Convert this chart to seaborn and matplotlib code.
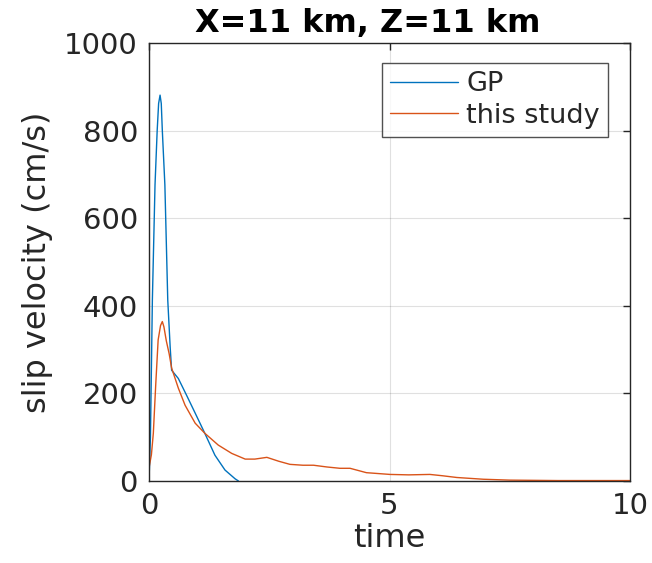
import matplotlib
matplotlib.use("Agg")
import matplotlib.pyplot as plt
import seaborn as sns
import pandas as pd

# GP series
gp_t = [0.0, 0.03, 0.07, 0.125, 0.17, 0.20, 0.23, 0.255, 0.277, 0.33, 0.39, 0.44, 0.47,
        0.61, 0.78, 0.96, 1.16, 1.37, 1.58, 1.79, 1.86]
gp_v = [0, 100, 413, 676, 800, 862, 881, 862, 800, 676, 413, 306, 253,
        234, 196, 155, 109, 59, 25, 5, 0]

# this study series
ts_t = [0.0, 0.05, 0.09, 0.14, 0.19, 0.24, 0.277, 0.31, 0.36, 0.42, 0.47, 0.61, 0.75, 0.96,
        1.16, 1.44, 1.72, 2.00, 2.20, 2.45, 2.70, 2.93, 3.20, 3.42, 3.70, 3.97,
        4.18, 4.52, 5.01, 5.40, 5.84, 6.10, 6.40, 6.95, 7.50, 8.50, 10.0]
ts_v = [30, 60, 109, 220, 322, 355, 364, 352, 320, 290, 258, 212, 173, 132,
        109, 82, 63, 50, 50, 54, 45, 38, 36, 36, 32, 29,
        29, 19, 15, 14, 15, 12, 8, 4, 2, 1, 1]

series_names = ["GP", "this study"]
colors = ["#0072BD", "#D95319"]
title_text = "X=11 km, Z=11 km"

df = pd.concat([
    pd.DataFrame({"time": gp_t, "v": gp_v, "series": series_names[0]}),
    pd.DataFrame({"time": ts_t, "v": ts_v, "series": series_names[1]}),
], ignore_index=True)

sns.set_style("white")
plt.rcParams['font.family'] = ['DejaVu Sans']

fig = plt.figure(figsize=(6.52, 5.63), dpi=100)
ax = fig.add_axes([149/652, 82/563, 481/652, 438/563])

sns.lineplot(data=df, x="time", y="v", hue="series", palette=colors,
             sort=False, estimator=None, linewidth=1.0, ax=ax)

ax.set_xlim(0, 10)
ax.set_ylim(0, 1000)
ax.set_xticks([0, 5, 10])
ax.set_yticks([0, 200, 400, 600, 800, 1000])
ax.grid(True, color="#000000", alpha=0.12, linewidth=0.8)
ax.tick_params(direction="in", length=5, width=1, top=True, right=True,
               labelsize=21, colors="#262626", pad=8)
for s in ax.spines.values():
    s.set_color("#262626")
    s.set_linewidth(1.0)
ax.set_xlabel("time", fontsize=23, color="#262626", labelpad=2)
ax.set_ylabel("slip velocity (cm/s)", fontsize=23, color="#262626", labelpad=8)
fig.text(367.5/652, (563-32)/563, title_text, fontsize=23, fontweight="bold",
         ha="center", va="baseline", color="#000000")

leg = ax.legend(loc="upper right", bbox_to_anchor=(0.954, 0.954), borderaxespad=0,
                fontsize=19.5, frameon=True, fancybox=False, edgecolor="#262626",
                handlelength=2.5, borderpad=0.3, labelspacing=0.2, handletextpad=0.3)
leg.get_frame().set_linewidth(1.0)
for line in leg.get_lines():
    line.set_linewidth(1.0)

fig.savefig("out.png", dpi=100)
